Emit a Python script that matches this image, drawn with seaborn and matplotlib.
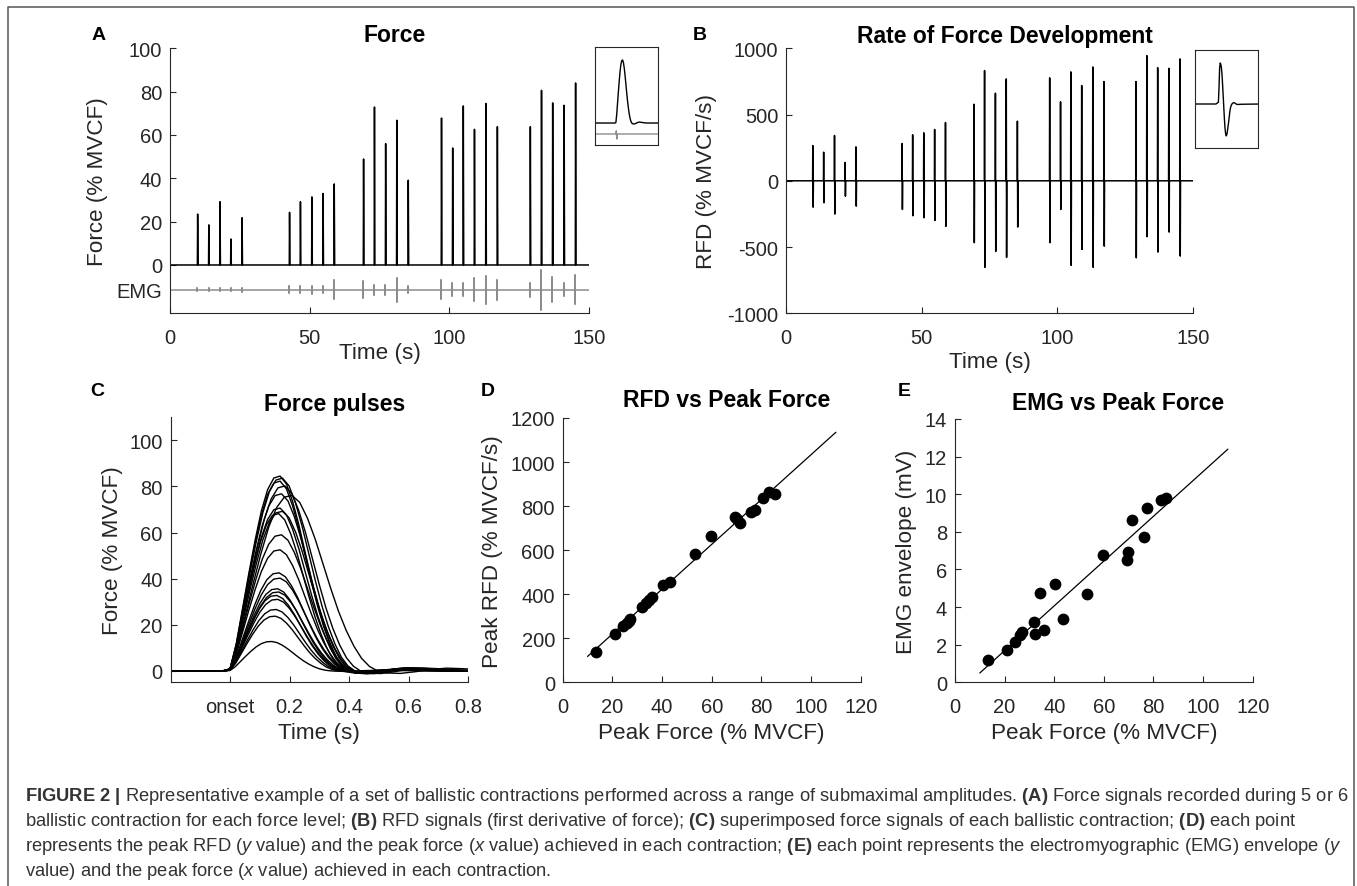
import numpy as np
import pandas as pd
import matplotlib
matplotlib.use("Agg")
import matplotlib.pyplot as plt
from matplotlib.lines import Line2D
import seaborn as sns

# ---- data ----
# contraction onsets (s), shared by panels A and B
times = [9.8, 13.8, 17.8, 21.7, 25.7, 42.7, 46.6, 50.7, 54.7, 58.7, 69.2, 73.1, 77.1, 81.1, 85.2,
         97.1, 101.1, 104.9, 108.9, 113.0, 117.1, 128.9, 132.9, 136.9, 141.0, 145.1]
force_peaks = [23.5, 18.5, 29.2, 12.0, 21.8, 24.3, 29.2, 31.4, 33.0, 37.4, 48.9, 72.9, 56.0, 66.8, 39.1,
               67.8, 54.0, 73.4, 62.6, 74.5, 63.8, 63.8, 80.6, 74.8, 73.7, 84.0]
emg_amps = [0.8, 0.7, 0.8, 0.6, 0.9, 1.5, 1.5, 1.8, 1.5, 4.4, 3.8, 2.3, 2.3, 5.5, 1.5,
            4.3, 3.0, 3.0, 5.2, 6.5, 4.6, 3.3, 9.2, 5.7, 3.1, 6.6]
rfd_pos = [266, 216, 342, 138, 256, 281, 347, 362, 387, 440, 578, 832, 661, 769, 450,
           777, 596, 822, 719, 859, 749, 749, 945, 854, 849, 920]
rfd_neg = [-199, -166, -251, -116, -191, -216, -264, -279, -299, -344, -467, -653, -533, -578, -349,
           -467, -216, -638, -518, -653, -493, -581, -422, -538, -387, -568]

# normalised force pulse (time from onset, s)
pulse_t = [-1.0, -0.1, -0.02, 0.0, 0.02, 0.04, 0.06, 0.08, 0.10, 0.12, 0.14, 0.16, 0.18, 0.20,
           0.22, 0.24, 0.26, 0.28, 0.30, 0.32, 0.34, 0.36, 0.38, 0.40, 0.44, 0.48, 0.52, 0.56,
           0.60, 0.66, 0.74, 1.4]
pulse_shape = [0, 0, 0, 0.01, 0.14, 0.32, 0.50, 0.67, 0.82, 0.93, 0.99, 1.0, 0.96, 0.87,
               0.75, 0.61, 0.47, 0.34, 0.23, 0.14, 0.07, 0.025, 0.0, -0.012, -0.015, -0.005, 0.008, 0.015,
               0.012, 0.005, 0.0, 0.0]
c_peaks = [12.7, 23.7, 26.6, 31.0, 32.7, 34.2, 35.6, 40.2, 42.5, 52.5, 59.0, 68.2, 69.2, 70.6,
           76.1, 76.8, 80.2, 82.3, 83.6, 84.5]
c_widths = [0.88, 0.95, 0.97, 1.0, 0.98, 1.02, 1.0, 1.05, 1.03, 1.05, 1.08, 1.02, 1.1, 1.05,
            1.3, 1.08, 1.15, 1.05, 1.1, 1.05]
c_ticks = [0, 0.2, 0.4, 0.6, 0.8]
c_ticklabels = ["onset", "0.2", "0.4", "0.6", "0.8"]

# inset EMG blip
inset_emg_t = [-0.5, 0.0, 0.01, 0.02, 0.03, 1.0]
inset_emg_v = [0, 0, 0.05, -0.08, 0, 0]

d_force = [13.4, 20.9, 24.2, 25.8, 26.7, 27.1, 32.1, 33.4, 34.8, 36.1, 40.4, 43.4, 53.2, 59.7,
           69.3, 70.1, 71.4, 76.0, 77.3, 80.5, 83.1, 85.4]
d_rfd = [139, 218, 257, 268, 280, 287, 343, 360, 375, 387, 443, 454, 581, 664,
         750, 741, 723, 772, 781, 835, 865, 856]
e_force = [13.4, 20.8, 24.3, 26.2, 27.0, 32.0, 32.3, 34.3, 36.0, 40.5, 43.4, 53.2, 59.8, 69.2,
           69.9, 71.4, 76.1, 77.3, 83.2, 85.2]
e_emg = [1.19, 1.74, 2.14, 2.52, 2.66, 3.19, 2.55, 4.77, 2.78, 5.21, 3.38, 4.70, 6.79, 6.50,
         6.95, 8.61, 7.74, 9.29, 9.68, 9.80]
fit_range = [10, 110]

caption = [
    r"$\mathbf{FIGURE\ 2\ |}$ Representative example of a set of ballistic contractions performed across a range of submaximal amplitudes. $\mathbf{(A)}$ Force signals recorded during 5 or 6",
    r"ballistic contraction for each force level; $\mathbf{(B)}$ RFD signals (first derivative of force); $\mathbf{(C)}$ superimposed force signals of each ballistic contraction; $\mathbf{(D)}$ each point",
    r"represents the peak RFD ($\mathit{y}$ value) and the peak force ($\mathit{x}$ value) achieved in each contraction; $\mathbf{(E)}$ each point represents the electromyographic (EMG) envelope ($\mathit{y}$",
    r"value) and the peak force ($\mathit{x}$ value) achieved in each contraction.",
]

# ---- style ----
sns.set_style("ticks")
plt.rcParams["font.family"] = ["Liberation Sans", "DejaVu Sans"]
plt.rcParams["mathtext.fontset"] = "custom"
plt.rcParams["mathtext.rm"] = "Liberation Sans"
plt.rcParams["mathtext.bf"] = "Liberation Sans:bold"
plt.rcParams["mathtext.it"] = "Liberation Sans:italic"
plt.rcParams["axes.unicode_minus"] = False
INK = "#262626"
TICK_FS, LABEL_FS, TITLE_FS = 14.5, 16.2, 16.5

W, H = 1357, 887
fig = plt.figure(figsize=(W / 100, H / 100), dpi=100)


def px_axes(l, t, r, b):
    return fig.add_axes([l / W, 1 - b / H, (r - l) / W, (b - t) / H])


def style(ax, xlab, ylab, xl, yl):
    sns.despine(ax=ax)
    for s in ["left", "bottom"]:
        ax.spines[s].set_color(INK)
        ax.spines[s].set_linewidth(0.8)
    ax.tick_params(direction="in", length=4, width=0.8, colors=INK, labelsize=TICK_FS)
    ax.tick_params(axis="x", pad=10.5)
    ax.tick_params(axis="y", pad=5.6)
    ax.set_xlabel(xlab, fontsize=LABEL_FS, color=INK)
    ax.set_ylabel(ylab, fontsize=LABEL_FS, color=INK)
    ax.xaxis.set_label_coords(0.5, xl)
    ax.yaxis.set_label_coords(yl, 0.5)
    ax.grid(False)


def inset_style(ax):
    for s in ax.spines.values():
        s.set_visible(True)
        s.set_color(INK)
        s.set_linewidth(0.8)
    ax.set_xticks([])
    ax.set_yticks([])
    ax.set_xlabel("")
    ax.set_ylabel("")


# ---- A: force ----
emg_offset = -11.4
fx, fy = [0.0], [0.0]
ex, ey = [0.0], [emg_offset]
for t, pk, amp in zip(times, force_peaks, emg_amps):
    fx += [t, t + 0.1, t + 0.25]
    fy += [0, pk, 0]
    ex += [t, t, t, t]
    ey += [emg_offset, emg_offset + amp, emg_offset - amp, emg_offset]
fx.append(150); fy.append(0)
ex.append(150); ey.append(emg_offset)

ax_a = px_axes(170, 49.3, 589, 314.3)
sns.lineplot(x=ex, y=ey, sort=False, estimator=None, color="#8c8c8c", lw=1.1, ax=ax_a)
sns.lineplot(x=fx, y=fy, sort=False, estimator=None, color="black", lw=1.1, ax=ax_a)
ax_a.set_xlim(0, 150)
ax_a.set_ylim(-22.3, 100)
ax_a.set_xticks([0, 50, 100, 150])
ax_a.set_yticks(range(0, 101, 20))
ax_a.set_yticks([emg_offset], labels=["EMG"], minor=True)
style(ax_a, "Time (s)", "Force (% MVCF)", -0.109, -0.148)
ax_a.tick_params(axis="y", which="minor", length=0, labelsize=TICK_FS, colors=INK, pad=5.6)

ax_ia = px_axes(595, 47.7, 657.7, 145.7)
ins_off = -0.174
sns.lineplot(x=inset_emg_t, y=np.array(inset_emg_v) + ins_off, sort=False, estimator=None,
             color="#8c8c8c", lw=1.0, ax=ax_ia)
sns.lineplot(x=pulse_t, y=pulse_shape, sort=False, estimator=None, color="black", lw=1.0, ax=ax_ia)
ax_ia.set_xlim(-0.5, 1.0)
ax_ia.set_ylim(-0.344, 1.211)
inset_style(ax_ia)

# ---- B: RFD ----
bx, by = [0.0], [0.0]
for t, p, n in zip(times, rfd_pos, rfd_neg):
    bx += [t, t + 0.08, t + 0.2, t + 0.3]
    by += [0, p, n, 0]
bx.append(150); by.append(0)

ax_b = px_axes(786, 49.3, 1193, 314.3)
sns.lineplot(x=bx, y=by, sort=False, estimator=None, color="black", lw=1.1, ax=ax_b)
ax_b.set_xlim(0, 150)
ax_b.set_ylim(-1000, 1000)
ax_b.set_xticks([0, 50, 100, 150])
ax_b.set_yticks([-1000, -500, 0, 500, 1000])
style(ax_b, "Time (s)", "RFD (% MVCF/s)", -0.141, -0.1695)

ax_ib = px_axes(1195, 51, 1258, 148.7)
rfd_shape = np.gradient(np.array(pulse_shape, float), np.array(pulse_t, float))
sns.lineplot(x=pulse_t, y=rfd_shape, sort=False, estimator=None, color="black", lw=1.0, ax=ax_ib)
dmax = rfd_shape.max()
ax_ib.set_xlim(-0.8, 1.3)
ax_ib.set_ylim(-dmax * 43.7 / 41, dmax * 54 / 41)
inset_style(ax_ib)

# ---- C: superimposed pulses ----
c_df = pd.concat([
    pd.DataFrame({"t": np.array(pulse_t) * w, "force": np.array(pulse_shape) * pk, "pulse": i})
    for i, (pk, w) in enumerate(zip(c_peaks, c_widths))
])
ax_c = px_axes(170.5, 418.3, 468.3, 683.3)
sns.lineplot(data=c_df, x="t", y="force", units="pulse", estimator=None, sort=False,
             color="black", lw=1.0, ax=ax_c, legend=False)
ax_c.set_xlim(-0.2, 0.8)
ax_c.set_ylim(-5, 110)
ax_c.set_xticks(c_ticks, labels=c_ticklabels)
ax_c.set_yticks(range(0, 101, 20))
style(ax_c, "Time (s)", "Force (% MVCF)", -0.15, -0.158)

# ---- D and E: scatter with linear fit ----
def scatter_fit(ax, x, y):
    sns.scatterplot(x=x, y=y, color="black", s=72, linewidth=0, ax=ax)
    k, b = np.polyfit(x, y, 1)
    xf = np.array(fit_range, float)
    sns.lineplot(x=xf, y=k * xf + b, color="black", lw=0.9, ax=ax)


ax_d = px_axes(562.7, 419, 860.7, 683.3)
scatter_fit(ax_d, d_force, d_rfd)
ax_d.set_xlim(0, 120)
ax_d.set_ylim(0, 1200)
ax_d.set_xticks(range(0, 121, 20))
ax_d.set_yticks(range(0, 1201, 200))
style(ax_d, "Peak Force (% MVCF)", "Peak RFD (% MVCF/s)", -0.150, -0.199)

ax_e = px_axes(955, 420, 1252.7, 683.3)
scatter_fit(ax_e, e_force, e_emg)
ax_e.set_xlim(0, 120)
ax_e.set_ylim(0, 14)
ax_e.set_xticks(range(0, 121, 20))
ax_e.set_yticks(range(0, 15, 2))
style(ax_e, "Peak Force (% MVCF)", "EMG envelope (mV)", -0.150, -0.128)

# ---- titles and panel letters ----
for s, x, y in [("Force", 395, 36), ("Rate of Force Development", 1005, 36),
                ("Force pulses", 335, 404), ("RFD vs Peak Force", 727, 401),
                ("EMG vs Peak Force", 1118, 404)]:
    fig.text(x / W, 1 - y / H, s, fontsize=TITLE_FS, fontweight="bold", color="black",
             ha="center", va="center")
for s, x, y in [("A", 99, 35), ("B", 700, 35), ("C", 97, 392), ("D", 488, 392), ("E", 904, 392)]:
    fig.text(x / W, 1 - y / H, s, fontsize=14, fontweight="bold", color="black",
             ha="center", va="center")

# ---- outer frame ----
fig.add_artist(Line2D([8 / W, 8 / W, 1354 / W, 1354 / W], [0, 1 - 8 / H, 1 - 8 / H, 0],
                      transform=fig.transFigure, color="#555555", lw=1.1))

# ---- caption ----
cap_texts = []
for i, s in enumerate(caption):
    cap_texts.append(fig.text(25 / W, 1 - (801 + 25 * i) / H, s, fontsize=12, color="#333333",
                              ha="left", va="baseline"))
fig.canvas.draw()
r = fig.canvas.get_renderer()
scale = (1346 - 25) / cap_texts[0].get_window_extent(r).width
for t in cap_texts:
    t.set_fontsize(12 * scale)

fig.savefig("out.png", dpi=100)
